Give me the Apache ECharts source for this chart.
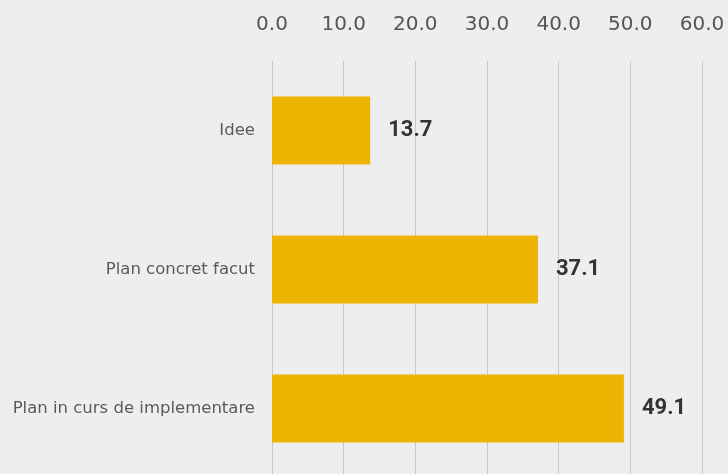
<!DOCTYPE html>
<html><head><meta charset="utf-8">
<script src="https://cdn.jsdelivr.net/npm/echarts@6/dist/echarts.min.js"></script>
<style>html,body{margin:0;padding:0;background:#eeeeee}#c{width:728px;height:474px}</style>
</head><body><div id="c"></div>
<script>
const categories = ["Idee", "Plan concret facut", "Plan in curs de implementare"];
const values = [13.7, 37.1, 49.1];
const axisMin = 0, axisMax = 60, axisStep = 10;

const chart = echarts.init(document.getElementById('c'), null, {renderer: 'canvas'});
chart.setOption({
  backgroundColor: '#eeeeee',
  animation: false,
  grid: {left: 272, right: 26, top: 61, height: 417, containLabel: false, outerBoundsMode: 'none'},
  xAxis: {
    type: 'value', position: 'top', min: axisMin, max: axisMax, interval: axisStep,
    axisLine: {show: false}, axisTick: {show: false},
    axisLabel: {formatter: v => v.toFixed(1), color: '#555', fontSize: 20, fontFamily: '"DejaVu Sans", sans-serif', margin: 26},
    splitLine: {show: true, lineStyle: {color: '#c8c8c8', width: 1}}
  },
  yAxis: {
    type: 'category', data: categories, inverse: true,
    axisLine: {show: false}, axisTick: {show: false},
    axisLabel: {color: '#5a5a5a', fontSize: 16.5, fontFamily: '"DejaVu Sans", sans-serif', margin: 17}
  },
  series: [{
    type: 'bar', data: values, barWidth: 68,
    itemStyle: {color: '#ecb300'},
    label: {show: true, position: 'right', distance: 18, formatter: p => p.value.toFixed(1),
      color: '#333', fontSize: 22, fontWeight: 'bold', fontFamily: 'Roboto, "Liberation Sans", sans-serif'}
  }]
});
</script></body></html>
